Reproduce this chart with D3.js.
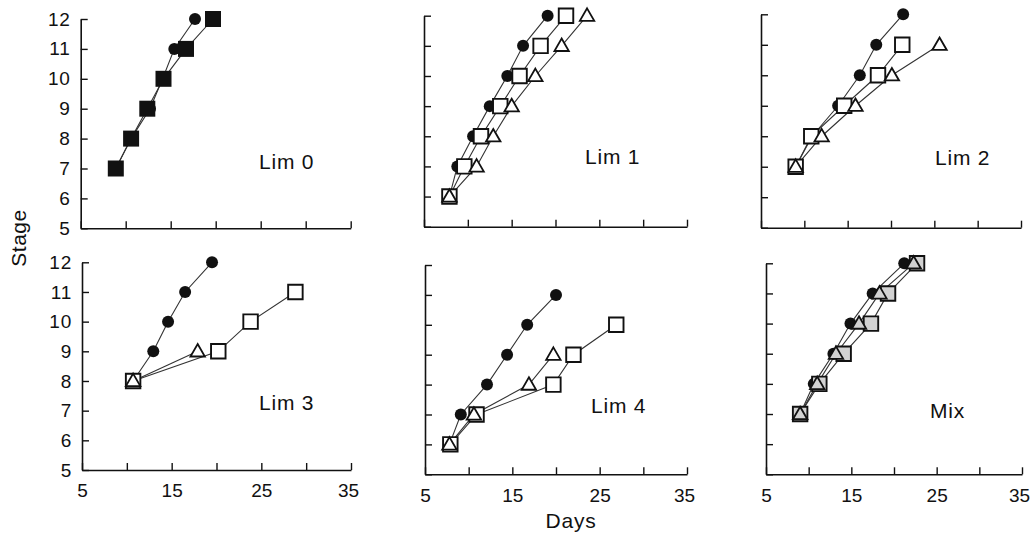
<!DOCTYPE html>
<html>
<head>
<meta charset="utf-8">
<script src="https://cdn.jsdelivr.net/npm/d3@7"></script>
<style>
  body { margin: 0; background: #fff; }
  text { font-family: "Liberation Sans", Arial, Helvetica, sans-serif; fill: #111; }
</style>
</head>
<body>
<svg id="chart"></svg>
<script>
// panel titles and axis ticks
const panelNames = ["Lim 0", "Lim 1", "Lim 2", "Lim 3", "Lim 4", "Mix"];
const dayTicks = [5, 10, 15, 20, 25, 30, 35];
const dayLabels = ["5", "", "15", "", "25", "", "35"];
const stageTicks = [5, 6, 7, 8, 9, 10, 11, 12];

// first stage reached by each series, per panel
const circleStart = [7, 6, 7, 8, 6, 7];
const squareStart = [7, 6, 7, 8, 6, 7];
const triangleStart = [null, 6, 7, 8, 6, 7];

// days to reach each successive stage
const circleDays = [
  [8.9, 10.6, 12.7, 14.1, 15.4, 17.7],
  [7.9, 8.8, 10.6, 12.5, 14.5, 16.3, 19.1],
  [9.0, 10.9, 13.9, 16.4, 18.3, 21.4],
  [10.7, 12.95, 14.6, 16.5, 19.5],
  [7.8, 9.1, 12.1, 14.4, 16.7, 20.0],
  [9.0, 10.6, 12.9, 14.9, 17.5, 21.2]
];
const squareDays = [
  [8.9, 10.6, 12.4, 14.2, 16.7, 19.7],
  [7.9, 9.6, 11.5, 13.7, 15.9, 18.3, 21.2],
  [9.0, 10.8, 14.6, 18.5, 21.3],
  [10.7, 20.2, 23.8, 28.8],
  [7.9, 10.9, 19.7, 22.0, 26.9],
  [9.0, 11.25, 14.1, 17.3, 19.3, 22.7]
];
const triangleDays = [
  [],
  [7.9, 11.0, 12.9, 15.0, 17.7, 20.7, 23.6],
  [9.0, 12.0, 15.9, 20.1, 25.6],
  [10.7, 17.9],
  [7.8, 10.6, 16.9, 19.7],
  [9.0, 11.0, 13.2, 15.9, 18.3, 22.3]
];

// marker fill per panel
const squareFill = ["#111", "#fff", "#fff", "#fff", "#fff", "#d2d2d2"];
const triangleFill = ["#fff", "#fff", "#fff", "#fff", "#fff", "#d2d2d2"];

// panel boxes (pixels) and label anchors
const boxes = [
  { l: 80.7, r: 350.7, t: 19,    b: 228.3, lx: 259, ly: 169 },
  { l: 424,  r: 687,   t: 15.7,  b: 226.7, lx: 585, ly: 164 },
  { l: 761,  r: 1021,  t: 14.3,  b: 227.7, lx: 935, ly: 165 },
  { l: 82,   r: 351,   t: 262.3, b: 470,   lx: 259, ly: 410 },
  { l: 425,  r: 687,   t: 265,   b: 474.3, lx: 591, ly: 413 },
  { l: 766,  r: 1022,  t: 263.3, b: 474.3, lx: 930, ly: 418 }
];

const width = 1032, height = 537;
const svg = d3.select("#chart").attr("width", width).attr("height", height);

const toPoints = (days, start) => days.map((d, k) => ({ day: d, stage: start + k }));

panelNames.forEach((name, i) => {
  const box = boxes[i];
  const x = d3.scaleLinear().domain([5, 35]).range([box.l, box.r]);
  const y = d3.scaleLinear().domain([5, 12]).range([box.b, box.t]);
  const g = svg.append("g");

  // axes, ticks pointing inward
  const yAxis = d3.axisLeft(y).tickValues(stageTicks)
    .tickSizeInner(-7).tickSizeOuter(0).tickPadding(10)
    .tickFormat(i % 3 === 0 ? d3.format("d") : () => "");
  const xAxis = d3.axisBottom(x).tickValues(dayTicks)
    .tickSizeInner(-7).tickSizeOuter(0).tickPadding(14)
    .tickFormat(i >= 3 ? (d, k) => dayLabels[k] : () => "");

  const ya = g.append("g").attr("transform", `translate(${box.l},0)`).call(yAxis);
  const xa = g.append("g").attr("transform", `translate(0,${box.b})`).call(xAxis);
  [ya, xa].forEach(a => {
    a.select(".domain").attr("stroke", "#111").attr("stroke-width", 1.6);
    a.selectAll(".tick line").attr("stroke", "#111").attr("stroke-width", 1.4);
    a.selectAll(".tick text").style("font-size", "19px").attr("fill", "#111");
  });
  ya.selectAll(".tick text").style("letter-spacing", "0.8px");
  // keep the last day label inside the page
  xa.selectAll(".tick text").attr("dx", d => d === 35 ? -3 : 0);

  const line = d3.line().x(d => x(d.day)).y(d => y(d.stage));

  const circles = toPoints(circleDays[i], circleStart[i]);
  const squares = toPoints(squareDays[i], squareStart[i]);
  const triangles = triangleStart[i] == null ? [] : toPoints(triangleDays[i], triangleStart[i]);

  // connecting lines
  [circles, squares, triangles].forEach(s => {
    if (s.length < 2) return;
    g.append("path").datum(s).attr("d", line)
      .attr("fill", "none").attr("stroke", "#333").attr("stroke-width", 1.1);
  });

  // markers: circles, then squares, then triangles on top
  g.selectAll(".c").data(circles).enter().append("circle")
    .attr("cx", d => x(d.day)).attr("cy", d => y(d.stage))
    .attr("r", 6).attr("fill", "#111");

  const sqSize = i === 0 ? 16 : 14.5;
  g.selectAll(".s").data(squares).enter().append("path")
    .attr("transform", d => `translate(${x(d.day)},${y(d.stage)})`)
    .attr("d", d3.symbol().type(d3.symbolSquare).size(sqSize * sqSize))
    .attr("fill", squareFill[i]).attr("stroke", "#111").attr("stroke-width", i === 0 ? 0 : 1.9);

  g.selectAll(".t").data(triangles).enter().append("path")
    .attr("transform", d => `translate(${x(d.day)},${y(d.stage) + 1})`)
    .attr("d", d3.symbol().type(d3.symbolTriangle).size(90))
    .attr("fill", triangleFill[i]).attr("stroke", "#111").attr("stroke-width", 1.8)
    .attr("stroke-linejoin", "miter");

  // panel label
  g.append("text").attr("x", box.lx).attr("y", box.ly)
    .style("font-size", "21px").style("letter-spacing", "0.8px")
    .text(name);
});

// shared axis titles
svg.append("text")
  .attr("transform", "translate(26,238) rotate(-90)")
  .attr("text-anchor", "middle")
  .style("font-size", "21px").style("letter-spacing", "0.5px")
  .text("Stage");

svg.append("text")
  .attr("x", 571).attr("y", 528)
  .attr("text-anchor", "middle")
  .style("font-size", "21px").style("letter-spacing", "0.8px")
  .text("Days");
</script>
</body>
</html>
